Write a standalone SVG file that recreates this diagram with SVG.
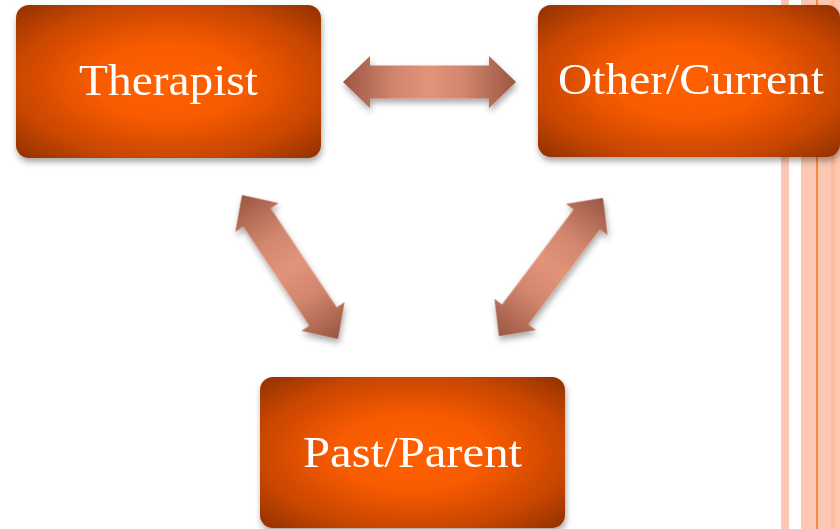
<svg xmlns="http://www.w3.org/2000/svg" width="840" height="529" viewBox="0 0 840 529">
  <defs>
    <radialGradient id="boxFill" cx="0.5" cy="0.5" r="0.707">
      <stop offset="0" stop-color="#ff6000"/>
      <stop offset="0.35" stop-color="#f85b00"/>
      <stop offset="0.72" stop-color="#c84600"/>
      <stop offset="1" stop-color="#8f3000"/>
    </radialGradient>
    <linearGradient id="arrowFill" x1="0" y1="0" x2="1" y2="0">
      <stop offset="0" stop-color="#9a5642"/>
      <stop offset="0.3" stop-color="#d2866d"/>
      <stop offset="0.5" stop-color="#e2947a"/>
      <stop offset="0.7" stop-color="#d2866d"/>
      <stop offset="1" stop-color="#9a5642"/>
    </linearGradient>
    <filter id="shadow" x="-20%" y="-20%" width="140%" height="150%">
      <feDropShadow dx="1" dy="4" stdDeviation="3" flood-color="#000" flood-opacity="0.35"/>
    </filter>
    <path id="dblArrow" d="M -86.5 0 L -59.5 -26 L -59.5 -16.5 L 59.5 -16.5 L 59.5 -26 L 86.5 0 L 59.5 26 L 59.5 16.5 L -59.5 16.5 L -59.5 26 Z"/>
    <style>
      .box { fill: url(#boxFill); }
      .label { font-family: "Liberation Serif", "DejaVu Serif", serif; font-size: 44px; fill: #ffffff; text-anchor: middle; }
      .arrow { fill: url(#arrowFill); }
    </style>
  </defs>

  <rect x="0" y="0" width="840" height="529" fill="#ffffff"/>

  <!-- decorative stripes down the right margin -->
  <g id="stripes">
    <rect x="781" y="0" width="8" height="529" fill="#fdc8b3"/>
    <rect x="801" y="0" width="15" height="529" fill="#fdc8b3"/>
    <rect x="816" y="0" width="2.5" height="529" fill="#f58a46"/>
    <rect x="818.5" y="0" width="12.5" height="529" fill="#fdc8b3"/>
    <rect x="831" y="0" width="4" height="529" fill="#fbbb9f"/>
    <rect x="835" y="0" width="5" height="529" fill="#fdc8b3"/>
  </g>

  <!-- connectors: double-headed block arrows -->
  <g id="connectors" filter="url(#shadow)">
    <use href="#dblArrow" class="arrow" transform="translate(429.5 82)"/>
    <use href="#dblArrow" class="arrow" transform="translate(290 267) rotate(56.3)"/>
    <use href="#dblArrow" class="arrow" transform="translate(551 267) rotate(-53)"/>
  </g>

  <g id="therapist" filter="url(#shadow)">
    <rect class="box" x="16" y="5" width="305" height="153" rx="13"/>
    <text class="label" x="168.5" y="95" textLength="179" lengthAdjust="spacingAndGlyphs">Therapist</text>
  </g>

  <g id="other-current" filter="url(#shadow)">
    <rect class="box" x="538" y="5" width="302" height="152" rx="13"/>
    <text class="label" x="691" y="94" textLength="266" lengthAdjust="spacingAndGlyphs">Other/Current</text>
  </g>

  <g id="past-parent" filter="url(#shadow)">
    <rect class="box" x="260" y="377" width="305" height="151" rx="13"/>
    <text class="label" x="412.5" y="467" textLength="219" lengthAdjust="spacingAndGlyphs">Past/Parent</text>
  </g>
</svg>
